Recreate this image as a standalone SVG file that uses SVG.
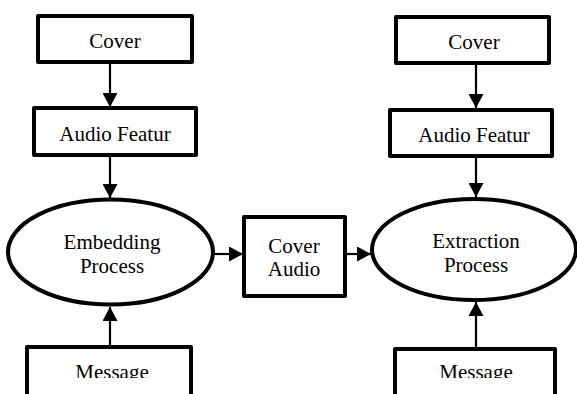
<svg xmlns="http://www.w3.org/2000/svg" width="577" height="394" viewBox="0 0 577 394">
<style>
.box{fill:#fff;stroke:#000;stroke-width:4;stroke-linejoin:round}
.ell{fill:#fff;stroke:#000;stroke-width:4}
.lbl{font-family:"Liberation Serif","Times New Roman",serif;font-size:21px;fill:#000;text-anchor:middle}
.con{stroke:#000;stroke-width:2.2;fill:none;marker-end:url(#ah)}
</style>
<defs>
<marker id="ah" viewBox="0 0 14 15" refX="14" refY="7.5" markerWidth="14" markerHeight="15" markerUnits="userSpaceOnUse" orient="auto">
<path d="M0,0 L14,7.5 L0,15 Z" fill="#000"/>
</marker>
<clipPath id="clipMsg"><rect x="0" y="0" width="577" height="378"/></clipPath>
</defs>
<rect width="577" height="394" fill="#fff"/>
<g id="connectors">
<line class="con" x1="110" y1="64" x2="110" y2="107"/>
<line class="con" x1="110" y1="157" x2="110" y2="198"/>
<line class="con" x1="110" y1="345" x2="110" y2="307"/>
<line class="con" x1="215" y1="254" x2="243" y2="254"/>
<line class="con" x1="347" y1="254" x2="371" y2="254"/>
<line class="con" x1="476" y1="65" x2="476" y2="108"/>
<line class="con" x1="476" y1="158" x2="476" y2="197"/>
<line class="con" x1="476" y1="347" x2="476" y2="302"/>
</g>
<g id="cover-left">
<rect class="box" x="38" y="16" width="154" height="46"/>
<text class="lbl" x="115" y="48">Cover</text>
</g>
<g id="feature-left">
<rect class="box" x="34" y="108" width="162" height="47"/>
<text class="lbl" x="115" y="141">Audio Featur</text>
</g>
<g id="embedding">
<ellipse class="ell" cx="110.5" cy="252" rx="102.5" ry="52.5"/>
<text class="lbl" x="112" y="249">Embedding</text>
<text class="lbl" x="112" y="273">Process</text>
</g>
<g id="message-left">
<rect class="box" x="27" y="347" width="164" height="60"/>
<text class="lbl" x="112" y="379" clip-path="url(#clipMsg)">Message</text>
</g>
<g id="cover-audio">
<rect class="box" x="244" y="217" width="101" height="79"/>
<text class="lbl" x="294" y="253">Cover</text>
<text class="lbl" x="294" y="276">Audio</text>
</g>
<g id="cover-right">
<rect class="box" x="396" y="17" width="153" height="46"/>
<text class="lbl" x="474" y="49">Cover</text>
</g>
<g id="feature-right">
<rect class="box" x="390" y="110" width="162" height="46"/>
<text class="lbl" x="474" y="142">Audio Featur</text>
</g>
<g id="extraction">
<ellipse class="ell" cx="474" cy="249.5" rx="102" ry="50.5"/>
<text class="lbl" x="476" y="248">Extraction</text>
<text class="lbl" x="476" y="272">Process</text>
</g>
<g id="message-right">
<rect class="box" x="395" y="349" width="160" height="60"/>
<text class="lbl" x="476" y="379" clip-path="url(#clipMsg)">Message</text>
</g>
</svg>
